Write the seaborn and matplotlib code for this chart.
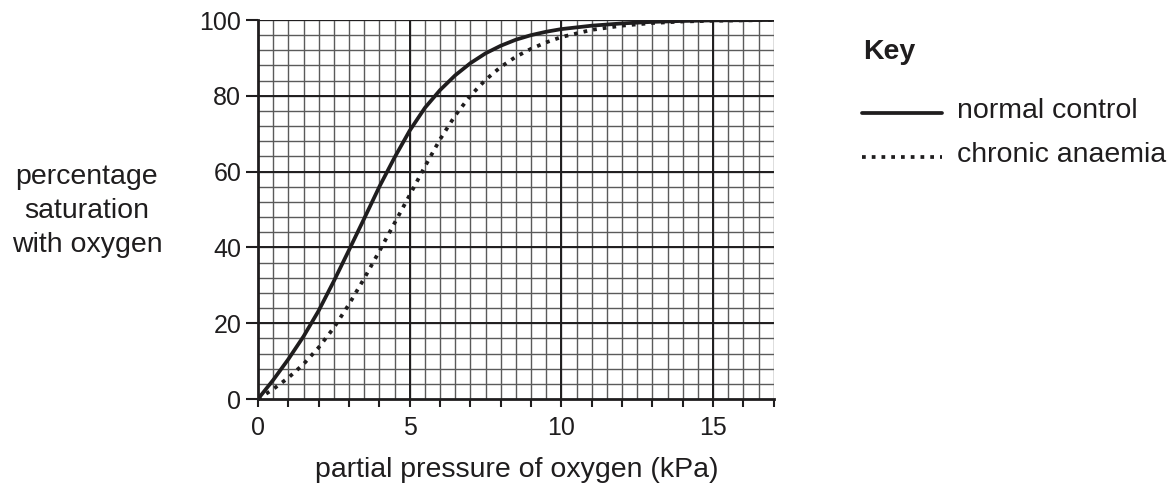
import numpy as np
import pandas as pd
import matplotlib
matplotlib.use("Agg")
from matplotlib import pyplot as plt
from matplotlib.lines import Line2D
from matplotlib.ticker import FuncFormatter
import seaborn as sns

sns.set_style("white")
plt.rcParams["font.family"] = ["Liberation Sans", "DejaVu Sans"]

# values (kPa, % saturation)
pressure = [0, 0.5, 1, 1.5, 2, 2.5, 3, 3.5, 4, 4.5, 5, 5.5, 6, 6.5, 7, 7.5,
            8, 8.5, 9, 9.5, 10, 11, 12, 13, 14, 15, 17]
normal_control = [0, 5, 10.5, 16.5, 23.3, 31.1, 39.3, 47.6, 56, 63.7, 70.8,
                  76.8, 81.5, 85.4, 88.6, 91.2, 93.2, 94.8, 96, 96.9, 97.6,
                  98.5, 99.1, 99.5, 99.75, 99.9, 100]
chronic_anaemia = [0, 2.6, 5.6, 9.2, 13.6, 18.8, 25, 31.8, 39, 46.4, 53.8,
                   61.3, 68.5, 74.8, 80, 84.2, 87.6, 90.3, 92.4, 94.1, 95.5,
                   97.4, 98.5, 99.2, 99.6, 99.8, 100]
conditions = ["normal control", "chronic anaemia"]

df = pd.DataFrame({
    "pressure": pressure * 2,
    "saturation": normal_control + chronic_anaemia,
    "condition": [conditions[0]] * len(pressure) + [conditions[1]] * len(pressure),
})

ink = "#1f1d1e"
W, H = 1176, 486

fig = plt.figure(figsize=(W / 100, H / 100), dpi=100)
ax = fig.add_axes([258 / W, 87 / H, (773.7 - 258) / W, (399 - 20) / H])

# graph paper
ax.vlines(np.arange(0.5, 17.01, 0.5), 0, 100, color="#5a5a5a", lw=1.0, zorder=1)
ax.hlines(np.arange(4, 100.1, 4), 0, 17, color="#5a5a5a", lw=1.0, zorder=1)
ax.vlines([5, 10, 15], 0, 100, color=ink, lw=1.4, zorder=1)
ax.hlines([20, 40, 60, 80, 100], 0, 17, color=ink, lw=1.4, zorder=1)

sns.lineplot(data=df, x="pressure", y="saturation", hue="condition",
             style="condition", palette=[ink, ink],
             dashes={"normal control": "", "chronic anaemia": (1, 1.6)},
             linewidth=2.7, legend=False, ax=ax, zorder=3)

ax.set_xlim(0, 17)
ax.set_ylim(0, 100)
ax.set_xticks(range(0, 18))
ax.xaxis.set_major_formatter(FuncFormatter(lambda v, p: str(int(v)) if v % 5 == 0 else ""))
ax.set_yticks([0, 20, 40, 60, 80, 100])
ax.tick_params(axis="x", bottom=True, length=6, width=1.5, direction="out",
               labelsize=18, pad=6, color=ink, labelcolor=ink)
ax.tick_params(axis="y", left=True, length=9, width=1.5, direction="out",
               labelsize=18, pad=3, color=ink, labelcolor=ink)
ax.set_xlabel("")
ax.set_ylabel("")
ax.spines[["top", "right"]].set_visible(False)
for side in ["left", "bottom"]:
    ax.spines[side].set_linewidth(2)
    ax.spines[side].set_color(ink)

fig.text(87 / W, 1 - 211 / H, "percentage\nsaturation\nwith oxygen",
         ha="center", va="center", fontsize=20.5, linespacing=1.4, color=ink)
fig.text(517 / W, 1 - 470 / H, "partial pressure of oxygen (kPa)",
         ha="center", va="center", fontsize=20.5, color=ink)

# key
fig.text(863 / W, 1 - 52 / H, "Key", ha="left", va="center",
         fontsize=20.5, fontweight="bold", color=ink)
fig.add_artist(Line2D([862 / W, 942 / W], [1 - 113 / H] * 2,
                      transform=fig.transFigure, color=ink, lw=2.7))
fig.add_artist(Line2D([862 / W, 942 / W], [1 - 157 / H] * 2,
                      transform=fig.transFigure, color=ink, lw=2.7,
                      linestyle=(0, (1, 1.6))))
fig.text(957 / W, 1 - 111 / H, "normal control", ha="left", va="center",
         fontsize=20.5, color=ink)
fig.text(957 / W, 1 - 155 / H, "chronic anaemia", ha="left", va="center",
         fontsize=20.5, color=ink)

fig.savefig("out.png", dpi=100)
